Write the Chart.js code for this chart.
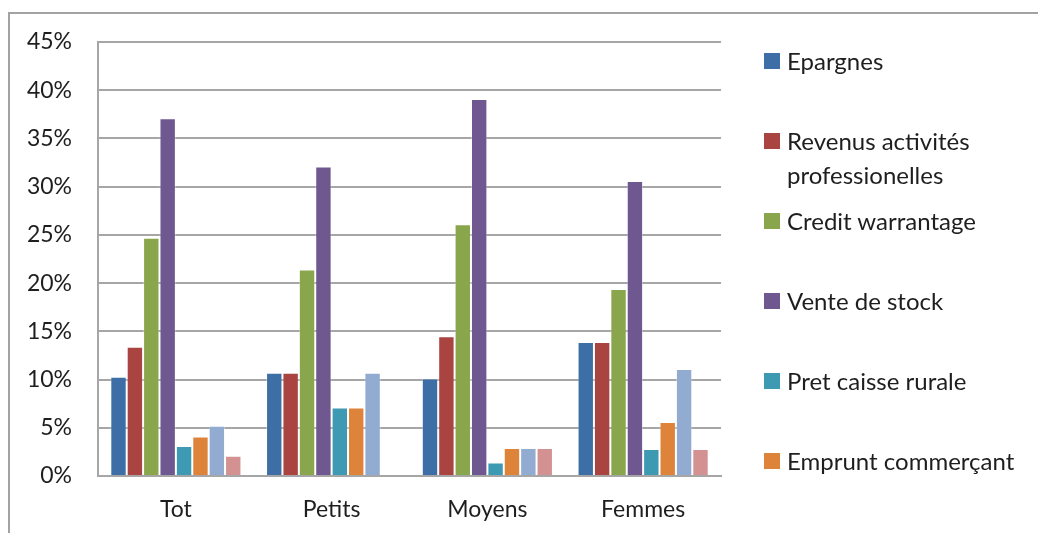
<!DOCTYPE html>
<html>
<head>
<meta charset="utf-8">
<script src="https://cdn.jsdelivr.net/npm/chart.js@4/dist/chart.umd.min.js"></script>
<style>
  body { margin: 0; background: #fff; font-family: Lato, sans-serif; }
  #wrap { position: relative; width: 1038px; height: 533px; overflow: hidden; }
  #frame { position: absolute; left: 8px; top: 12px; width: 1100px; height: 600px;
           border-top: 2px solid #a3a3a3; border-left: 2px solid #a3a3a3; }
  #chart { position: absolute; left: 0; top: 0; }
  #legend { position: absolute; left: 764px; top: 0; }
  .item { position: absolute; left: 0; width: 274px; font-size: 24px; line-height: 34px; color: #1e1e1e; }
  .sw { position: absolute; left: 0; top: 9px; width: 16px; height: 16px; }
  .txt { position: absolute; left: 23px; width: 250px; }
</style>
</head>
<body>
<div id="wrap">
  <div id="frame"></div>
  <canvas id="chart" width="1038" height="533"></canvas>
  <div id="legend"></div>
</div>
<script>
// categories and series (percent)
const categories = ["Tot", "Petits", "Moyens", "Femmes"];
const seriesNames = ["Epargnes", "Revenus activités professionelles", "Credit warrantage",
    "Vente de stock", "Pret caisse rurale", "Emprunt commerçant", "Série 7", "Série 8"];
const epargnes    = [10.3, 10.7, 10.1, 13.9];
const revenus     = [13.4, 10.7, 14.5, 13.9];
const warrantage  = [24.7, 21.4, 26.1, 19.4];
const venteStock  = [37.1, 32.1, 39.1, 30.6];
const caisse      = [3.1, 7.1, 1.4, 2.8];
const commercant  = [4.1, 7.1, 2.9, 5.6];
const serie7      = [5.2, 10.7, 2.9, 11.1];
const serie8      = [2.1, 0, 2.9, 2.8];
const yTicks = [0, 5, 10, 15, 20, 25, 30, 35, 40, 45];

const colors = ["#3d6fa6", "#a94441", "#8aa64c", "#6f5790", "#3d9ab2", "#de843a", "#92abd1", "#d39291"];
const values = [epargnes, revenus, warrantage, venteStock, caisse, commercant, serie7, serie8];
const shownInLegend = 6;

let ctx = document.getElementById('chart').getContext('2d');
let chart = new Chart(ctx, {
    type: 'bar',
    data: {
        labels: categories,
        datasets: values.map((v, i) => ({
            label: seriesNames[i],
            data: v,
            backgroundColor: colors[i],
            borderColor: 'rgba(255,255,255,0.35)',
            borderWidth: 1,
            categoryPercentage: 0.842,
            barPercentage: 1
        }))
    },
    options: {
        responsive: false,
        animation: false,
        layout: { padding: { left: 0, right: 317, top: 42, bottom: 0 } },
        plugins: { legend: { display: false }, tooltip: { enabled: false } },
        scales: {
            y: {
                min: 0, max: 45,
                afterBuildTicks: s => { s.ticks = yTicks.map(v => ({ value: v })); },
                afterFit: s => { s.width = 98; },
                grid: { color: '#a6a6a6', lineWidth: 2, drawTicks: false },
                border: { color: '#a6a6a6', width: 2 },
                ticks: { padding: 26, color: '#1e1e1e', font: { family: 'Lato', size: 23 },
                         callback: v => v + '%' }
            },
            x: {
                afterFit: s => { s.height = 57; },
                grid: { display: false, drawTicks: false },
                border: { color: '#a6a6a6', width: 2 },
                ticks: { padding: 20, color: '#1e1e1e', font: { family: 'Lato', size: 23 } }
            }
        }
    }
});

// legend (only the first six entries are visible in the original)
let legend = document.getElementById('legend');
chart.data.datasets.slice(0, shownInLegend).forEach(function(ds, i) {
    let item = document.createElement('div');
    item.className = 'item';
    item.style.top = (44 + i * 80) + 'px';
    item.innerHTML = '<span class="sw" style="background:' + ds.backgroundColor + '"></span>' +
                     '<span class="txt">' + ds.label + '</span>';
    legend.appendChild(item);
});
</script>
</body>
</html>
